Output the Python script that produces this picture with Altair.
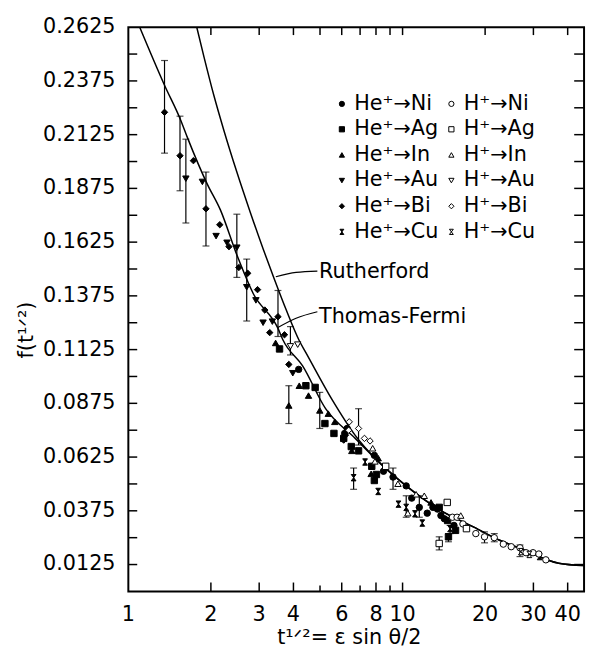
import math
import altair as alt
import pandas as pd

# ---------------- data ----------------
series_order = ["He⁺→Ni", "He⁺→Ag", "He⁺→In", "He⁺→Au", "He⁺→Bi", "He⁺→Cu",
                "H⁺→Ni", "H⁺→Ag", "H⁺→In", "H⁺→Au", "H⁺→Bi", "H⁺→Cu"]

he_ni_x = [4.18, 6.15, 6.28, 7.89, 8.52, 9.23, 10.31, 10.80, 11.51, 12.3, 12.9, 13.8, 14.2, 13.4, 15.4]
he_ni_y = [.1033, .0735, .0758, .0633, .0559, .0532, .0491, .0434, .0391, .0364, .0391, .0353, .0338, .0383, .0307]
he_ag_x = [3.559, 4.44, 4.80, 5.21, 5.62, 6.10, 6.50, 6.91, 7.72, 8.03, 7.89, 13.6, 14.6, 15.6, 14.7]
he_ag_y = [.1128, .0957, .0949, .0781, .0735, .0712, .0674, .0654, .0582, .0544, .0516, .0391, .0330, .0284, .0254]
he_in_x = [3.444, 4.20, 4.54, 3.848, 4.99, 5.36, 5.66, 6.53, 7.68, 8.15, 12.7]
he_in_y = [.1156, .0957, .0911, .0865, .0842, .0827, .0789, .0654, .0547, .0620, .0414]
he_au_x = [1.621, 1.862, 2.089, 2.289, 2.487, 2.702, 2.919, 3.10, 3.351, 3.978]
he_au_y = [.1920, .1905, .1653, .1622, .1599, .1415, .1354, .1250, .1255, .1015]
he_bi_x = [1.355, 1.543, 1.727, 1.919, 2.155, 2.328, 2.529, 2.725, 2.959, 3.145, 3.513, 3.278, 3.71, 3.848, 6.10, 6.19]
he_bi_y = [.2229, .2027, .2004, .1780, .1706, .1604, .1507, .1480, .1404, .1309, .1278, .1204, .1194, .1056, .0704, .0727]
he_cu_x = [6.63, 7.30, 8.15, 9.66, 10.31, 11.1, 11.8, 14.9, 31.6]
he_cu_y = [.0529, .0602, .0465, .0406, .0391, .0361, .0318, .0292, .0162]
h_ni_x = [15.2, 15.8, 16.6, 18.5, 19.9, 21.6, 23.3, 24.9, 26.8, 28.2, 29.9, 31.4, 33.3]
h_ni_y = [.0345, .0345, .0314, .0269, .0254, .0250, .0220, .0208, .0203, .0180, .0180, .0174, .0147]
h_ag_x = [8.68, 14.55, 13.6, 17.1]
h_ag_y = [.0582, .0414, .0223, .0292]
h_in_x = [7.78, 7.93, 9.62, 11.2, 12.0, 16.3, 10.45]
h_in_y = [.0666, .0605, .0501, .0452, .0445, .0353, .0364]
h_au_x = [3.90, 4.146]
h_au_y = [.1140, .1148]
h_bi_x = [6.36, 6.91, 6.39, 7.26, 7.61]
h_bi_y = [.0750, .0758, .0789, .0712, .0700]
h_cu_x = [27.0, 29.0]
h_cu_y = [.0185, .0172]

# error bars: x, low, high
eb_x = [1.355, 1.543, 1.621, 1.919, 2.487, 2.702, 3.513, 3.90, 3.848, 4.99, 6.91, 6.63,
        9.23, 10.31, 11.51, 14.9, 14.7, 13.6, 19.9, 21.6, 26.8]
eb_lo = [.2039, .1864, .1714, .1607, .1461, .1258, .1186, .1100, .0781, .0758, .0681, .0475,
         .0475, .0345, .0345, .0269, .0231, .0193, .0226, .0231, .0162]
eb_hi = [.2470, .2211, .2104, .1951, .1755, .1546, .1400, .1232, .0957, .0926, .0850, .0574,
         .0574, .0445, .0445, .0307, .0269, .0254, .0277, .0269, .0216]

# theory curves
tf_x = [1.10, 1.355, 1.555, 1.644, 1.94, 2.166, 2.488, 2.856, 3.51, 3.66, 4.32, 5.24, 6.72,
        7.93, 10.31, 13.8, 18.2, 22.6, 27.5, 37.1, 45.9]
tf_y = [.2625, .2355, .2190, .2110, .1895, .1775, .1565, .1385, .1225, .1171, .1049, .0850, .0712,
        .0620, .0491, .0376, .0299, .0238, .0195, .0131, .0120]
ru_x = [1.776, 1.888, 2.051, 2.228, 2.487, 2.777, 3.102, 3.416, 3.763, 4.202, 4.44, 5.54,
        6.72, 7.93, 10.31, 13.8, 18.2, 22.6, 27.5, 37.1, 45.9]
ru_y = [.2625, .2486, .2307, .2147, .1951, .1768, .1593, .1449, .1310, .1166, .1111, .0891,
        .0726, .0620, .0491, .0376, .0299, .0238, .0195, .0131, .0120]

# annotations
ann_text = ["Rutherford", "Thomas-Fermi"]
ann_x = [4.96, 4.96]
ann_y = [.1484, .1278]
lead_group = ["R", "R", "R", "T", "T", "T"]
lead_x = [3.45, 4.09, 4.89, 3.51, 4.09, 4.89]
lead_y = [.1464, .1484, .1490, .1228, .1271, .1301]

# axis ticks / labels / titles
y_label_vals = [0.0125, 0.0375, 0.0625, 0.0875, 0.1125, 0.1375, 0.1625, 0.1875, 0.2125, 0.2375, 0.2625]
y_tick_vals = [0.0125, 0.025, 0.0375, 0.05, 0.0625, 0.075, 0.0875, 0.1, 0.1125, 0.125, 0.1375,
               0.15, 0.1625, 0.175, 0.1875, 0.2, 0.2125, 0.225, 0.2375, 0.25]
x_label_vals = [1, 2, 3, 4, 6, 8, 10, 20, 30, 40]
x_major_ticks = [2, 3, 4, 6, 8, 10, 20, 30, 40]
x_minor_ticks = [5, 7, 9]
x_top_ticks = [2, 3, 4, 5, 6, 7, 8, 9, 10, 20, 30, 40]
x_title = ["t¹ᐟ²= ε sin θ/2"]
y_title = ["f(t¹ᐟ²)"]

# ---------------- geometry ----------------
W, H = 462, 572
X_MIN, X_MAX = 1, 45.9
Y_MIN, Y_MAX = 0, 0.2625
xs = alt.Scale(type="log", domain=[X_MIN, X_MAX], nice=False)
ys = alt.Scale(domain=[Y_MIN, Y_MAX], nice=False, zero=False)
FONT = "DejaVu Sans"
FS = 21

# tick lengths (px) expressed in the scales' units so ticks go through the scales
def x_span(px):
    return 10 ** (px / W * math.log10(X_MAX / X_MIN))

def y_span(px):
    return px / H * (Y_MAX - Y_MIN)

# ---------------- tables ----------------
pts_rows = []
for name, xs_, ys_ in [
    (series_order[0], he_ni_x, he_ni_y), (series_order[1], he_ag_x, he_ag_y),
    (series_order[2], he_in_x, he_in_y), (series_order[3], he_au_x, he_au_y),
    (series_order[4], he_bi_x, he_bi_y), (series_order[5], he_cu_x, he_cu_y),
    (series_order[6], h_ni_x, h_ni_y), (series_order[7], h_ag_x, h_ag_y),
    (series_order[8], h_in_x, h_in_y), (series_order[9], h_au_x, h_au_y),
    (series_order[10], h_bi_x, h_bi_y), (series_order[11], h_cu_x, h_cu_y)]:
    for a, b in zip(xs_, ys_):
        pts_rows.append({"x": a, "y": b, "series": name})
pts = pd.DataFrame(pts_rows)
eb = pd.DataFrame({"x": eb_x, "lo": eb_lo, "hi": eb_hi})
tf = pd.DataFrame({"x": tf_x, "y": tf_y})
ru = pd.DataFrame({"x": ru_x, "y": ru_y})
ann = pd.DataFrame({"x": ann_x, "y": ann_y, "t": ann_text})
lead = pd.DataFrame({"x": lead_x, "y": lead_y, "g": lead_group})
yt_left = pd.DataFrame({"v": y_tick_vals, "a": X_MIN, "b": X_MIN * x_span(9)})
yt_right = pd.DataFrame({"v": y_tick_vals, "a": X_MAX / x_span(10), "b": X_MAX})
xt_bottom = pd.DataFrame({"v": x_major_ticks, "a": Y_MIN, "b": Y_MIN + y_span(9)})
xt_minor = pd.DataFrame({"v": x_minor_ticks, "a": Y_MIN, "b": Y_MIN + y_span(6)})
xt_top = pd.DataFrame({"v": x_top_ticks, "a": Y_MAX - y_span(8), "b": Y_MAX})
yl = pd.DataFrame({"v": y_label_vals})
xl = pd.DataFrame({"v": x_label_vals})
xtitle = pd.DataFrame({"t": x_title})
ytitle = pd.DataFrame({"t": y_title})

X = lambda f: alt.X(f, scale=xs, axis=None)
Y = lambda f: alt.Y(f, scale=ys, axis=None)

hourglass = "M-0.75,-1L0.75,-1L-0.75,1L0.75,1Z"
shape_range = ["circle", "square", "triangle-up", "triangle-down", "diamond", hourglass] * 2
fill_range = ["black"] * 6 + ["white"] * 6
stroke_range = ["black"] * 12

tf_line = alt.Chart(tf).mark_line(color="black", strokeWidth=1.5, interpolate="monotone", clip=True).encode(
    x=X("x:Q"), y=Y("y:Q"))
ru_line = alt.Chart(ru).mark_line(color="black", strokeWidth=1.5, interpolate="monotone", clip=True).encode(
    x=X("x:Q"), y=Y("y:Q"))

# inward ticks on all four sides
tick_style = dict(color="black", strokeWidth=1.5)
t_left = alt.Chart(yt_left).mark_rule(**tick_style).encode(y=Y("v:Q"), x=X("a:Q"), x2="b:Q")
t_right = alt.Chart(yt_right).mark_rule(**tick_style).encode(y=Y("v:Q"), x=X("a:Q"), x2="b:Q")
t_bottom = alt.Chart(xt_bottom).mark_rule(**tick_style).encode(x=X("v:Q"), y=Y("a:Q"), y2="b:Q")
t_bottom_minor = alt.Chart(xt_minor).mark_rule(**tick_style).encode(x=X("v:Q"), y=Y("a:Q"), y2="b:Q")
t_top = alt.Chart(xt_top).mark_rule(**tick_style).encode(x=X("v:Q"), y=Y("a:Q"), y2="b:Q")

# tick labels and axis titles
y_labels = alt.Chart(yl).mark_text(align="right", baseline="middle", fontSize=FS, font=FONT,
                                   color="black").encode(
    y=Y("v:Q"), x=alt.value(-13), text=alt.Text("v:Q", format=".4f"))
x_labels = alt.Chart(xl).mark_text(align="center", baseline="top", fontSize=FS, font=FONT,
                                   color="black").encode(
    x=X("v:Q"), y=alt.value(H + 13), text=alt.Text("v:Q", format="d"))
x_title_mark = alt.Chart(xtitle).mark_text(align="center", baseline="top", fontSize=FS, font=FONT,
                                           color="black").encode(
    x=alt.value(224), y=alt.value(H + 36), text="t:N")
y_title_mark = alt.Chart(ytitle).mark_text(align="center", baseline="bottom", angle=270, fontSize=FS,
                                           font=FONT, color="black").encode(
    x=alt.value(-93), y=alt.value(307), text="t:N")

legend = alt.Legend(orient="none", legendX=206, legendY=67, columns=2, title=None,
                    labelFontSize=FS, labelFont=FONT, symbolSize=28, rowPadding=4,
                    columnPadding=2, symbolStrokeWidth=1,
                    labelOffset=2, labelLimit=300, labelColor="black")

points = alt.Chart(pts).mark_point(size=42, strokeWidth=1, opacity=1).encode(
    x=X("x:Q"), y=Y("y:Q"),
    shape=alt.Shape("series:N", scale=alt.Scale(domain=series_order, range=shape_range), legend=legend),
    fill=alt.Fill("series:N", scale=alt.Scale(domain=series_order, range=fill_range), legend=legend),
    stroke=alt.Stroke("series:N", scale=alt.Scale(domain=series_order, range=stroke_range), legend=legend),
)

bars = alt.Chart(eb).mark_rule(color="black", strokeWidth=1.2).encode(
    x=X("x:Q"), y=Y("lo:Q"), y2="hi:Q")
cap_lo = alt.Chart(eb).mark_tick(color="black", orient="horizontal", size=7, thickness=1.2).encode(
    x=X("x:Q"), y=Y("lo:Q"))
cap_hi = alt.Chart(eb).mark_tick(color="black", orient="horizontal", size=7, thickness=1.2).encode(
    x=X("x:Q"), y=Y("hi:Q"))

labels = alt.Chart(ann).mark_text(align="left", baseline="middle", fontSize=FS, font=FONT, color="black").encode(
    x=X("x:Q"), y=Y("y:Q"), text="t:N")
leaders = alt.Chart(lead).mark_line(color="black", strokeWidth=1.2, interpolate="monotone").encode(
    x=X("x:Q"), y=Y("y:Q"), detail="g:N")

chart = alt.layer(tf_line, ru_line, t_left, t_right, t_bottom, t_bottom_minor, t_top,
                  y_labels, x_labels, x_title_mark, y_title_mark,
                  bars, cap_lo, cap_hi, points, leaders, labels).properties(
    width=W, height=H,
    autosize=alt.AutoSizeParams(type="none"),
    padding={"left": 122, "top": 15, "right": 4, "bottom": 59},
).configure(font=FONT).configure_view(
    stroke="black", strokeWidth=2
)

chart.save("out.html", embed_options={"renderer": "svg", "actions": False})
